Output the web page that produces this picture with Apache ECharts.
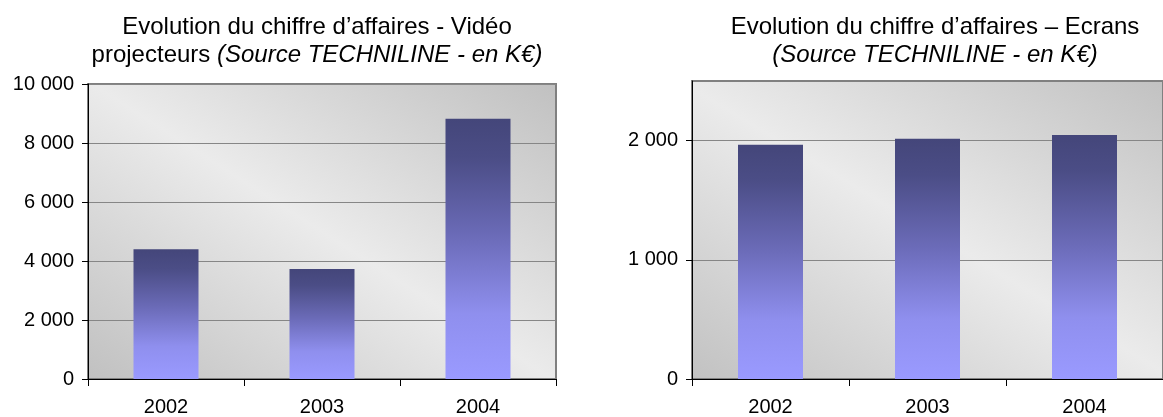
<!DOCTYPE html>
<html>
<head>
<meta charset="utf-8">
<script src="https://cdn.jsdelivr.net/npm/echarts@6/dist/echarts.min.js"></script>
<style>
  html, body { margin: 0; padding: 0; background: #ffffff; }
  #chart { width: 1163px; height: 417px; }
</style>
</head>
<body>
<div id="chart"></div>
<script>
// Years shared by both charts
const years = ['2002', '2003', '2004'];

// Turnover, video projectors (K€)
const projectorSales = [4400, 3730, 8820];

// Turnover, screens (K€)
const screenSales = [1965, 2015, 2048];

// Value-axis ticks
const projectorTicks = [0, 2000, 4000, 6000, 8000, 10000];
const screenTicks = [0, 1000, 2000];

const FONT = '"Liberation Sans", Arial, sans-serif';
const W = 1163, H = 417;

// Plot rectangles (pixels)
const leftPlot = { left: 88, right: 556, top: 84, bottom: 382 };
const rightPlot = { left: 692, right: 1176, top: 81, bottom: 380 };

// French thousands separator (space)
function fmt(v) {
  return String(v).replace(/\B(?=(\d{3})+(?!\d))/g, ' ');
}

// Grey diagonal shading: dark bottom-left and top-right corners,
// light band along the top-left / bottom-right diagonal.
function plotBackground(p) {
  const w = p.right - p.left, h = p.bottom - p.top;
  const dx = h / w, dy = w / h;
  return new echarts.graphic.LinearGradient(
    0.5 - dx / 2, 0.5 + dy / 2, 0.5 + dx / 2, 0.5 - dy / 2, [
      { offset: 0, color: '#bcbcbc' },
      { offset: 0.5, color: '#ebebeb' },
      { offset: 1, color: '#bcbcbc' }
    ]);
}

function barFill() {
  return new echarts.graphic.LinearGradient(0, 0, 0, 1, [
    { offset: 0, color: '#44467a' },
    { offset: 0.15, color: '#4b4d86' },
    { offset: 0.45, color: '#6b6bb8' },
    { offset: 0.75, color: '#8f8fee' },
    { offset: 1, color: '#9a9aff' }
  ]);
}

function titleStyle(size) {
  return {
    fontFamily: FONT,
    fontSize: size,
    fontWeight: 'normal',
    color: '#000',
    lineHeight: 28,
    rich: {
      i: { fontFamily: FONT, fontSize: size, fontStyle: 'italic', color: '#000', lineHeight: 28 }
    }
  };
}

function gridOf(p) {
  return {
    left: p.left, right: W - p.right, top: p.top, bottom: H - p.bottom,
    show: true, backgroundColor: plotBackground(p),
    borderColor: '#808080', borderWidth: 2
  };
}

function valueAxis(gridIndex, max, interval, ticks) {
  return {
    type: 'value',
    gridIndex: gridIndex,
    min: 0,
    max: max,
    interval: interval,
    axisLine: { show: true, lineStyle: { color: '#000', width: 1 } },
    axisTick: { show: true, length: 6, lineStyle: { color: '#000' }, customValues: ticks },
    axisLabel: {
      customValues: ticks,
      formatter: fmt,
      margin: 14,
      fontFamily: FONT,
      fontSize: 20,
      color: '#000'
    },
    splitLine: { show: true, lineStyle: { color: '#868686', width: 1 } }
  };
}

function categoryAxis(gridIndex) {
  return {
    type: 'category',
    gridIndex: gridIndex,
    data: years,
    boundaryGap: true,
    axisLine: { show: true, lineStyle: { color: '#000', width: 1 } },
    axisTick: { show: true, length: 7, alignWithLabel: false, lineStyle: { color: '#000' } },
    axisLabel: { margin: 18, fontFamily: FONT, fontSize: 20, color: '#000' },
    splitLine: { show: false }
  };
}

const chart = echarts.init(document.getElementById('chart'), null, { renderer: 'canvas' });

chart.setOption({
  animation: false,
  backgroundColor: '#ffffff',
  title: [
    {
      text: 'Evolution du chiffre d’affaires - Vidéo\nprojecteurs {i|(Source TECHNILINE - en K€)}',
      left: 312,
      top: 8,
      textAlign: 'center',
      textStyle: titleStyle(24)
    },
    {
      text: 'Evolution du chiffre d’affaires – Ecrans\n{i|(Source TECHNILINE - en K€)}',
      left: 930,
      top: 8,
      textAlign: 'center',
      textStyle: titleStyle(24)
    }
  ],
  grid: [gridOf(leftPlot), gridOf(rightPlot)],
  xAxis: [categoryAxis(0), categoryAxis(1)],
  yAxis: [
    valueAxis(0, 10000, 2000, projectorTicks),
    valueAxis(1, 2500, 1000, screenTicks)
  ],
  series: [
    {
      type: 'bar',
      xAxisIndex: 0,
      yAxisIndex: 0,
      data: projectorSales,
      barWidth: 65,
      itemStyle: { color: barFill() }
    },
    {
      type: 'bar',
      xAxisIndex: 1,
      yAxisIndex: 1,
      data: screenSales,
      barWidth: 65,
      itemStyle: { color: barFill() }
    }
  ]
});
</script>
</body>
</html>
